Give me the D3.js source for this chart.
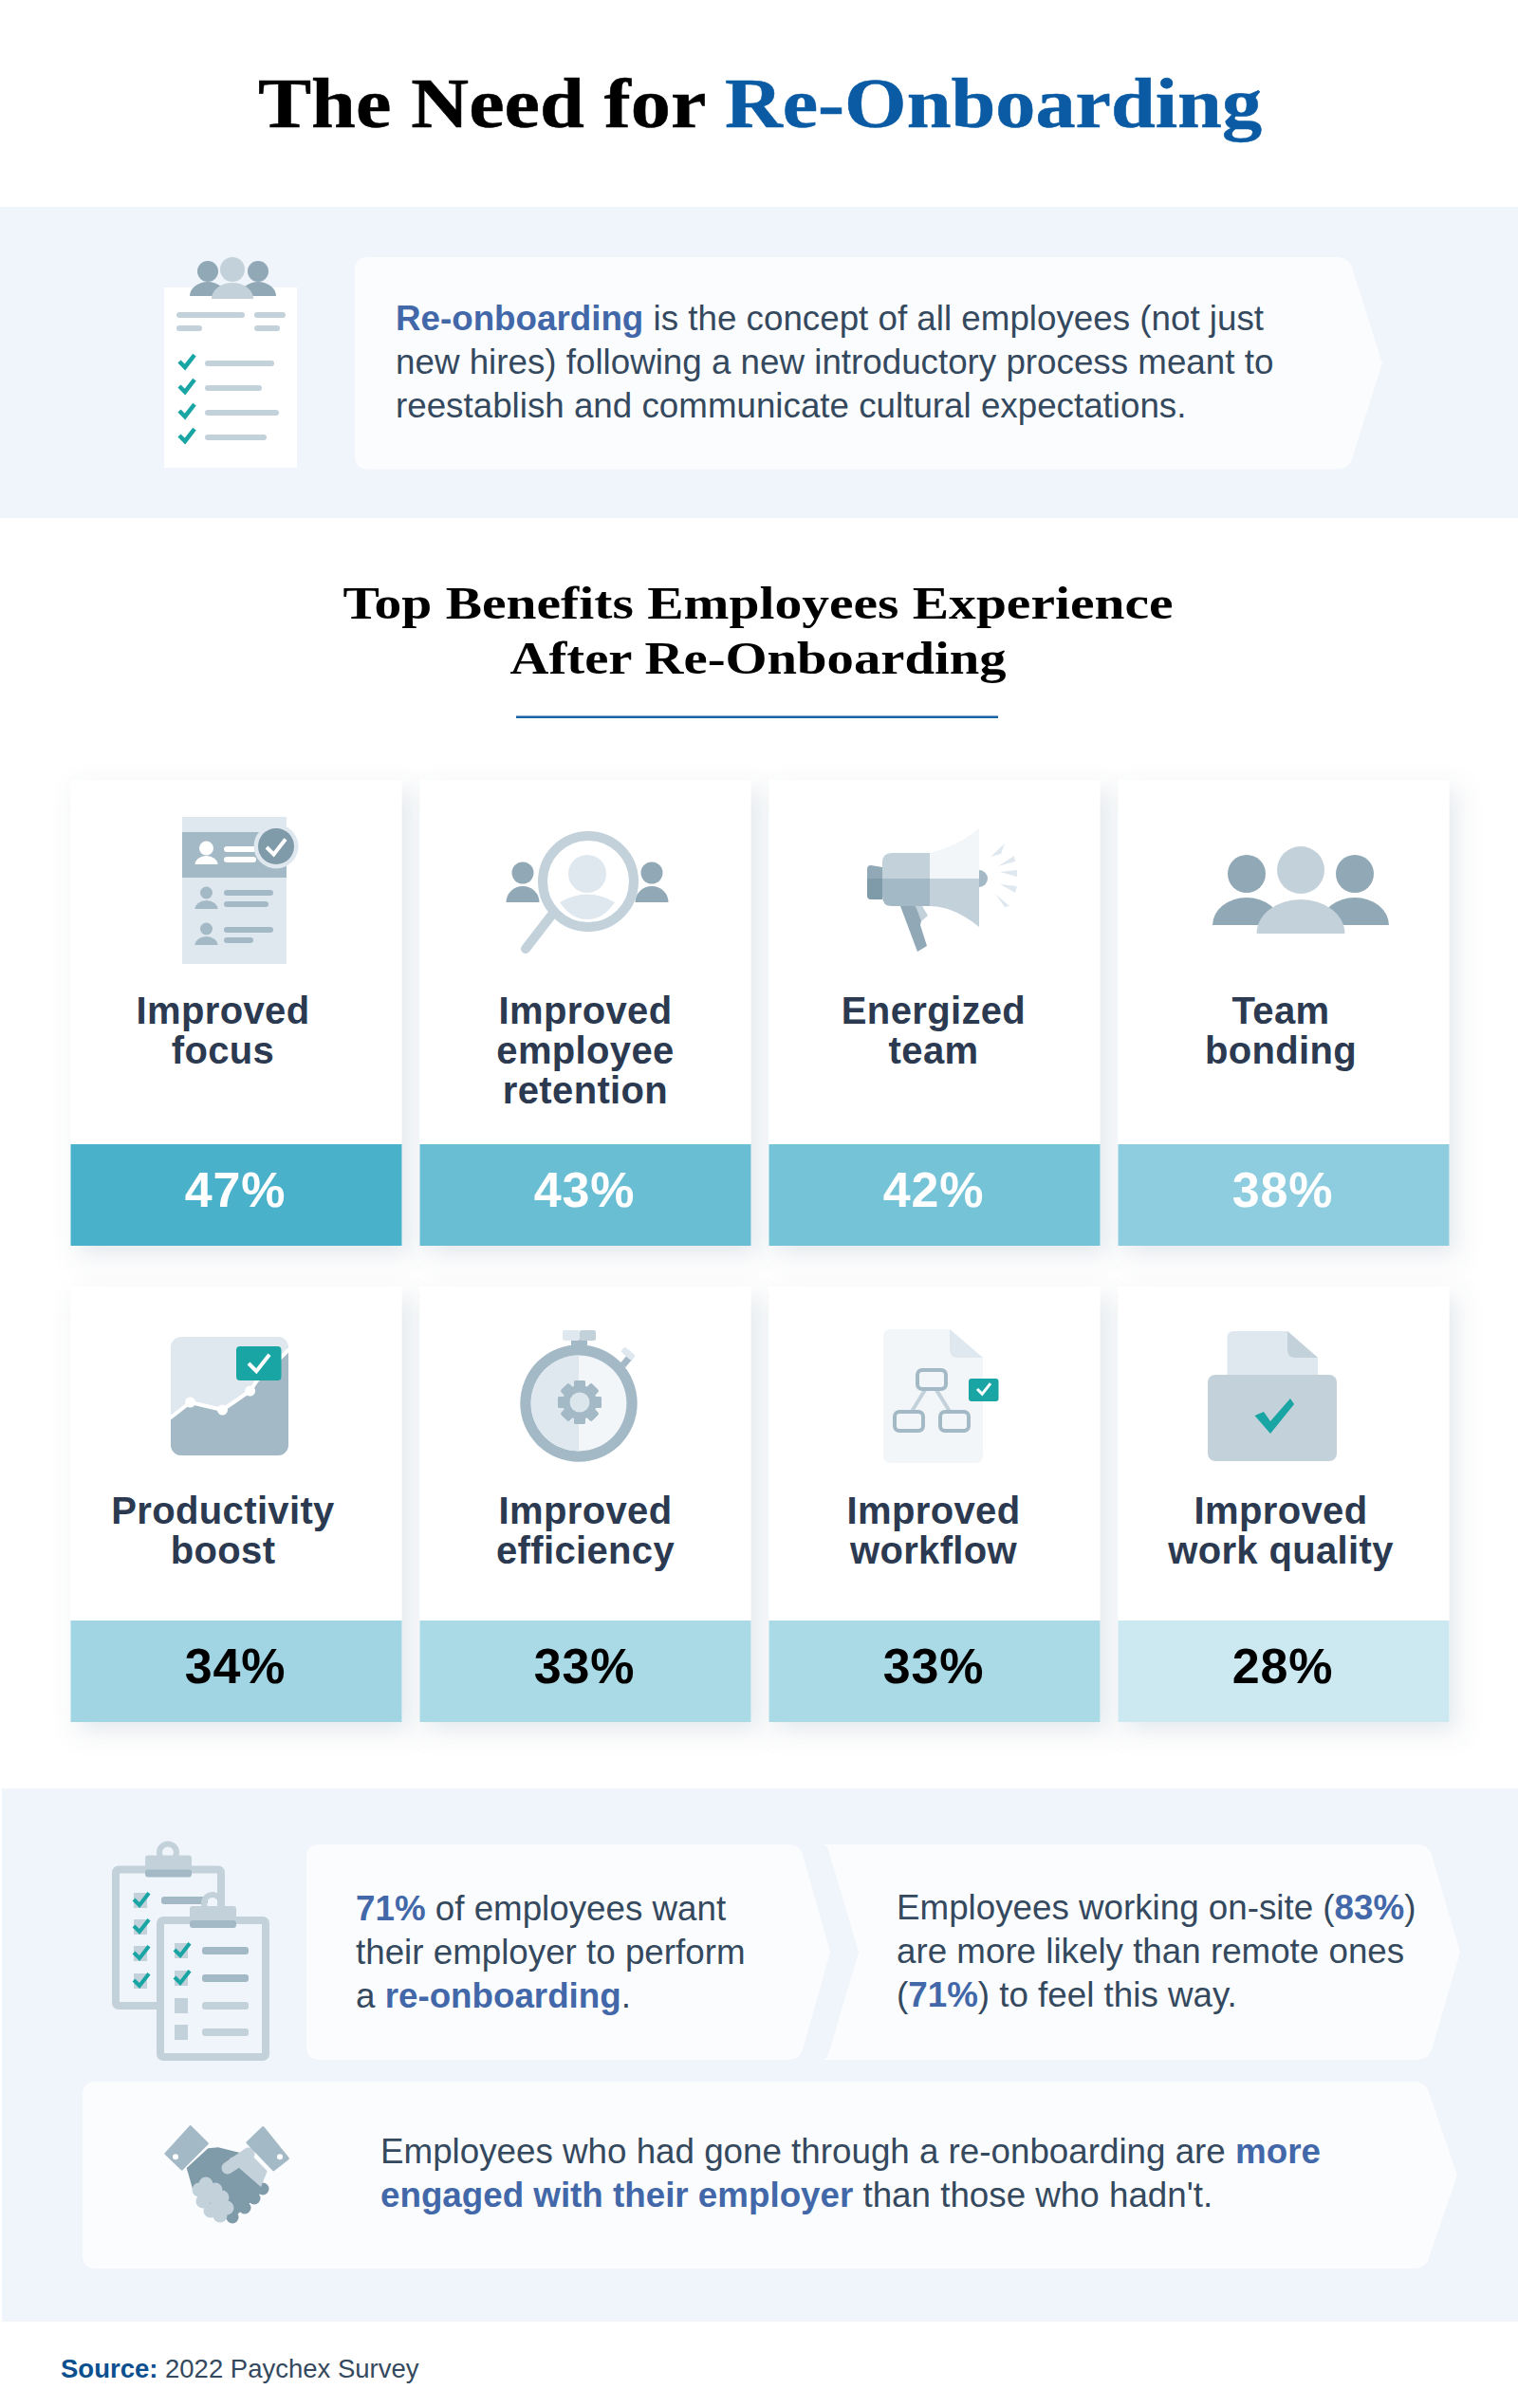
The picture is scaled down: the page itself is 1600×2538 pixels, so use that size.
<!DOCTYPE html>
<html>
<head>
<meta charset="utf-8">
<script src="https://cdn.jsdelivr.net/npm/d3@7"></script>
<style>
  body { margin: 0; background: #fff; }
  svg { display: block; }
  text { font-family: "Liberation Sans", Arial, sans-serif; }
  text.serif { font-family: "Liberation Serif", serif; font-weight: bold; }
</style>
</head>
<body>
<div id="chart"></div>
<script>
// chart values
var benefitLabels = [
    ["Improved", "focus"],
    ["Improved", "employee", "retention"],
    ["Energized", "team"],
    ["Team", "bonding"],
    ["Productivity", "boost"],
    ["Improved", "efficiency"],
    ["Improved", "workflow"],
    ["Improved", "work quality"]
];
var benefitValues = [47, 43, 42, 38, 34, 33, 33, 28];

// text blocks, each run is [text, highlighted]
var introLines = [
    [["Re-onboarding", true], [" is the concept of all employees (not just", false]],
    [["new hires) following a new introductory process meant to", false]],
    [["reestablish and communicate cultural expectations.", false]]
];
var wantLines = [
    [["71%", true], [" of employees want", false]],
    [["their employer to perform", false]],
    [["a ", false], ["re-onboarding", true], [".", false]]
];
var onsiteLines = [
    [["Employees working on-site (", false], ["83%", true], [")", false]],
    [["are more likely than remote ones", false]],
    [["(", false], ["71%", true], [") to feel this way.", false]]
];
var engagedLines = [
    [["Employees who had gone through a re-onboarding are ", false], ["more", true]],
    [["engaged with their employer", true], [" than those who hadn't.", false]]
];

// palette
var PALE = "#f3f6f9", LIGHT = "#e0e8ef", MID = "#c3d1da", SLATE = "#a4b9c6",
    DUSK = "#91a9b7", DARK = "#7f9aa8", TEAL = "#18a5a3";
var BAND = "#f0f4fb", CALLOUT = "#fbfcfe", BODY = "#34495e", HILITE = "#4268a9";

var svg = d3.select("#chart").append("svg")
    .attr("width", 1600).attr("height", 2538).attr("viewBox", "0 0 1600 2538");

var filter = svg.append("defs").append("filter").attr("id", "cardShadow")
    .attr("x", "-15%").attr("y", "-15%").attr("width", "130%").attr("height", "130%");
filter.append("feDropShadow")
    .attr("dx", 8).attr("dy", 10).attr("stdDeviation", 13)
    .attr("flood-color", "#5f7a90").attr("flood-opacity", 0.17);

// small drawing helpers for the icons
function rect(g, x, y, w, h, fill, rx) {
    return g.append("rect").attr("x", x).attr("y", y).attr("width", w).attr("height", h)
        .attr("fill", fill).attr("rx", rx || 0);
}
function circ(g, cx, cy, r, fill) {
    return g.append("circle").attr("cx", cx).attr("cy", cy).attr("r", r).attr("fill", fill);
}
function shape(g, d, fill) {
    return g.append("path").attr("d", d).attr("fill", fill);
}
function line(g, d, color, width) {
    return g.append("path").attr("d", d).attr("fill", "none").attr("stroke", color)
        .attr("stroke-width", width).attr("stroke-linecap", "round").attr("stroke-linejoin", "round");
}
function dome(g, cx, top, bottom, w, fill) {
    return shape(g, "M" + (cx - w) + "," + bottom + "A" + w + "," + (bottom - top) + " 0 0 1 " + (cx + w) + "," + bottom + "Z", fill);
}
function check(g, x, y, s, color, width) {
    return g.append("path")
        .attr("d", "M" + (x - s) + "," + y + "L" + (x - s * 0.25) + "," + (y + s * 0.75) + "L" + (x + s) + "," + (y - s * 0.85))
        .attr("fill", "none").attr("stroke", color).attr("stroke-width", width);
}
function person(g, cx, headY, headR, top, bottom, w, fill) {
    circ(g, cx, headY, headR, fill);
    dome(g, cx, top, bottom, w, fill);
}

// chevron shaped box, optional notch on the left side
function callout(x0, y0, x1, y1, tip, notch) {
    var r = 14, mid = (y0 + y1) / 2;
    var left = notch
        ? "L" + x0 + "," + y1 + "Q" + (x0 + 7) + "," + y1 + " " + (x0 + 9) + "," + (y1 - 12) +
          "L" + notch + "," + mid + "L" + (x0 + 9) + "," + (y0 + 12) + "Q" + (x0 + 7) + "," + y0 + " " + x0 + "," + y0
        : "L" + (x0 + r) + "," + y1 + "Q" + x0 + "," + y1 + " " + x0 + "," + (y1 - r) +
          "L" + x0 + "," + (y0 + r) + "Q" + x0 + "," + y0 + " " + (x0 + r) + "," + y0;
    svg.append("path").attr("fill", CALLOUT).attr("d",
        "M" + (notch ? x0 : x0 + r) + "," + y0 + "L" + (x1 - r) + "," + y0 +
        "Q" + x1 + "," + y0 + " " + (x1 + 3) + "," + (y0 + r) + "L" + tip + "," + mid +
        "L" + (x1 + 3) + "," + (y1 - r) + "Q" + x1 + "," + y1 + " " + (x1 - r) + "," + y1 + left + "Z");
}

// multi line text with highlighted runs
function writeLines(lines, x, baselines, size) {
    lines.forEach(function(runs, i) {
        var t = svg.append("text").attr("x", x).attr("y", baselines[i])
            .attr("font-size", size).attr("fill", BODY).attr("xml:space", "preserve");
        runs.forEach(function(run) {
            t.append("tspan").text(run[0])
                .attr("fill", run[1] ? HILITE : BODY)
                .attr("font-weight", run[1] ? "bold" : "normal");
        });
    });
}

// ---- header ----
// reference face is wider than Liberation Serif, so stretch it
var title = svg.append("text").attr("class", "serif").attr("text-anchor", "middle")
    .attr("transform", "translate(801,133.5) scale(1.123,1)")
    .attr("font-size", 75).attr("stroke-width", 0.5);
title.append("tspan").text("The Need for ").attr("fill", "#000").attr("stroke", "#000");
title.append("tspan").text("Re-Onboarding").attr("fill", "#0a5ba4").attr("stroke", "#0a5ba4");

rect(svg, 0, 218, 1600, 328, BAND);
callout(374, 271, 1423, 494.5, 1457);
writeLines(introLines, 417, [347.5, 393.5, 439.5], 36.75);

svg.append("text").attr("class", "serif").attr("x", 799).attr("y", 651.5).attr("text-anchor", "middle")
    .attr("font-size", 49).attr("fill", "#000")
    .attr("textLength", 875).attr("lengthAdjust", "spacingAndGlyphs")
    .text("Top Benefits Employees Experience");
svg.append("text").attr("class", "serif").attr("x", 799).attr("y", 710).attr("text-anchor", "middle")
    .attr("font-size", 49).attr("fill", "#000")
    .attr("textLength", 523).attr("lengthAdjust", "spacingAndGlyphs")
    .text("After Re-Onboarding");
rect(svg, 544, 754.5, 508, 2.5, "#1a63a3");

// intro icon
(function() {
    var g = svg.append("g");
    rect(g, 173, 303, 140, 190, "#fff");
    person(g, 219, 286, 11, 297, 312, 19, DUSK);
    person(g, 272, 286, 11, 297, 312, 19, DUSK);
    person(g, 245, 284, 13, 298, 315, 22, MID);
    [[186, 72, 332], [268, 33, 332], [186, 27, 346], [268, 27, 346]].forEach(function(b) {
        rect(g, b[0], b[2] - 3, b[1], 6, MID, 3);
    });
    [[381, 289], [407, 276], [433, 294], [459, 281]].forEach(function(b) {
        check(g, 197, b[0], 8, TEAL, 4.5);
        rect(g, 216, b[0] - 1, b[1] - 216, 6, MID, 3);
    });
})();

// ---- benefit cards ----
var cardX = d3.scaleBand().domain(d3.range(4)).range([74.5, 1527.5]).paddingInner(19 / 368);
var rowTop = [822, 1356];
var rowBarTop = [1206, 1708];
var rowFirstBase = [1079, 1606];
var labelShift = [-14, 0, -1, -3];
var BAR_H = 107;

var barColor = d3.scaleLinear()
    .domain([28, 33, 34, 38, 42, 43, 47])
    .range(["#cce8f1", "#aadae6", "#a1d5e3", "#8dcddf", "#74c3d7", "#6abed4", "#4ab1cb"]);

var cards = svg.selectAll("g.card").data(benefitValues).enter().append("g")
    .attr("class", "card")
    .attr("data-col", function(d, i) { return i % 4; });

cards.append("rect")
    .attr("x", function(d, i) { return cardX(i % 4); })
    .attr("y", function(d, i) { return rowTop[Math.floor(i / 4)]; })
    .attr("width", cardX.bandwidth())
    .attr("height", function(d, i) { var r = Math.floor(i / 4); return rowBarTop[r] + BAR_H - rowTop[r]; })
    .attr("fill", "#fff")
    .attr("filter", "url(#cardShadow)");

cards.append("rect")
    .attr("x", function(d, i) { return cardX(i % 4); })
    .attr("y", function(d, i) { return rowBarTop[Math.floor(i / 4)]; })
    .attr("width", cardX.bandwidth())
    .attr("height", BAR_H)
    .attr("fill", function(d) { return barColor(d); });

cards.append("text")
    .attr("x", function(d, i) { return cardX(i % 4) + cardX.bandwidth() / 2 - 1; })
    .attr("y", function(d, i) { return rowBarTop[Math.floor(i / 4)] + 66; })
    .attr("text-anchor", "middle")
    .attr("font-size", 52).attr("font-weight", "bold").attr("letter-spacing", 0.8)
    .attr("fill", function(d) { return d >= 38 ? "#fff" : "#000"; })
    .text(function(d) { return d + "%"; });

cards.each(function(d, i) {
    var c = i % 4, r = Math.floor(i / 4);
    var cx = cardX(c) + cardX.bandwidth() / 2 + labelShift[c];
    d3.select(this).selectAll("text.label").data(benefitLabels[i]).enter().append("text")
        .attr("class", "label")
        .attr("x", cx)
        .attr("y", function(l, j) { return rowFirstBase[r] + j * 42; })
        .attr("text-anchor", "middle")
        .attr("font-size", 40).attr("font-weight", "bold").attr("fill", "#2b3a50")
        .attr("letter-spacing", 0.35)
        .text(function(l) { return l; });
});

// icon: profile list
(function() {
    var g = svg.append("g");
    rect(g, 192, 861, 110, 155, LIGHT);
    rect(g, 192, 877, 110, 48, SLATE);
    person(g, 217.5, 894, 7.5, 902, 911, 12, "#fff");
    rect(g, 236, 892, 34, 6, "#fff", 3);
    rect(g, 236, 903, 34, 6, "#fff", 3);
    person(g, 217.5, 941, 6.5, 949, 958, 12, SLATE);
    rect(g, 236, 938, 52, 6, SLATE, 3);
    rect(g, 236, 950, 47, 6, SLATE, 3);
    person(g, 217.5, 979, 6.5, 987, 996, 12, SLATE);
    rect(g, 236, 977, 52, 6, SLATE, 3);
    rect(g, 236, 988, 31, 6, SLATE, 3);
    circ(g, 291, 892, 23.5, LIGHT);
    circ(g, 291, 892, 19, DARK);
    check(g, 291, 893, 10, "#fff", 4);
})();

// icon: magnifier
(function() {
    var g = svg.append("g");
    person(g, 551, 920, 11.5, 934, 951, 17.5, DUSK);
    person(g, 687, 920, 11.5, 934, 951, 17.5, DUSK);
    line(g, "M581,965L554,1000", MID, 10);
    circ(g, 620, 929, 48, "#fff").attr("stroke", MID).attr("stroke-width", 10);
    circ(g, 619, 921, 20, LIGHT);
    shape(g, "M590,951Q619,934 648,951Q636,969 619,969Q602,969 590,951Z", LIGHT);
})();

// icon: megaphone
(function() {
    var g = svg.append("g");
    shape(g, "M949,955L965,955L972,966L970,975L977,997L967,1003Z", DUSK);
    shape(g, "M965,955L972,955L978,965L971,971Z", MID);
    shape(g, "M918,912L930,914L930,926L914,926L914,916Q914,912 918,912Z", DUSK);
    shape(g, "M914,926L930,926L930,948L918,948Q914,948 914,944Z", DARK);
    shape(g, "M1032,917A9,9 0 0 1 1032,935Z", SLATE);
    shape(g, "M940,899L980,899L980,926L930,926L930,909Q930,899 940,899Z", MID);
    shape(g, "M930,926L980,926L980,955L940,955Q930,955 930,945Z", SLATE);
    shape(g, "M980,899Q1010,892 1032,873L1032,926L980,926Z", PALE);
    shape(g, "M980,926L1032,926L1032,977Q1005,955 980,955Z", MID);
    ["M1044,903L1059,889L1055,900Z", "M1052,913L1069,902L1070,908Z", "M1054,919L1072,917L1072,924Z",
     "M1054,932L1072,934L1070,941Z", "M1049,942L1064,955L1059,956Z"].forEach(function(d) {
        shape(g, d, LIGHT);
    });
})();

// icon: team
(function() {
    var g = svg.append("g");
    person(g, 1314, 921, 20, 946, 975, 36, DUSK);
    person(g, 1428, 921, 20, 946, 975, 36, DUSK);
    person(g, 1371, 917, 25, 948, 984, 46.5, MID);
})();

// icon: growth chart
(function() {
    var g = svg.append("g");
    g.append("clipPath").attr("id", "chartClip").append("rect")
        .attr("x", 180).attr("y", 1409).attr("width", 124).attr("height", 125).attr("rx", 11);
    var inner = g.append("g").attr("clip-path", "url(#chartClip)");
    rect(inner, 180, 1409, 124, 125, LIGHT);
    var trend = "M180,1494L200.5,1478L234.5,1486L263.6,1466L271,1455L304,1423";
    shape(inner, trend + "L304,1534L180,1534Z", SLATE);
    line(inner, trend, "#fff", 4);
    [[200.5, 1478], [234.5, 1486], [263.6, 1466]].forEach(function(p) { circ(inner, p[0], p[1], 5.5, "#fff"); });
    rect(g, 249, 1419, 47.5, 36, TEAL, 4);
    check(g, 273, 1437, 11, "#fff", 4);
})();

// icon: stopwatch
(function() {
    var g = svg.append("g");
    rect(g, 602, 1410, 17, 10, SLATE);
    rect(g, 593, 1402, 18, 11, LIGHT, 2);
    rect(g, 611, 1402, 17, 11, MID, 2);
    g.append("rect").attr("x", 657).attr("y", 1428).attr("width", 7).attr("height", 12).attr("fill", SLATE)
        .attr("transform", "rotate(40 660 1434)");
    g.append("rect").attr("x", 655).attr("y", 1423).attr("width", 15).attr("height", 7).attr("fill", LIGHT).attr("rx", 2)
        .attr("transform", "rotate(40 662 1426)");
    circ(g, 610, 1479, 61.7, SLATE);
    circ(g, 610, 1479, 50.4, PALE);
    shape(g, "M610,1428.6A50.4,50.4 0 0 0 610,1529.4Z", LIGHT);
    d3.range(8).forEach(function(k) {
        g.append("rect").attr("x", 605).attr("y", 1455).attr("width", 12).attr("height", 46).attr("fill", SLATE).attr("rx", 2)
            .attr("transform", "rotate(" + k * 45 + " 611 1478)");
    });
    circ(g, 611, 1478, 18, SLATE);
    circ(g, 611, 1478, 10.5, "#dbe5ec");
})();

// icon: workflow document
(function() {
    var g = svg.append("g");
    shape(g, "M939,1401L1001,1401L1036,1431L1036,1534Q1036,1542 1028,1542L939,1542Q931,1542 931,1534L931,1409Q931,1401 939,1401Z", PALE);
    shape(g, "M1001,1401L1036,1431L1010,1431Q1001,1431 1001,1422Z", LIGHT);
    line(g, "M975,1465L962,1486", MID, 4);
    line(g, "M987,1465L1000,1486", MID, 4);
    [[965, 1442], [941, 1486], [989, 1486]].forEach(function(p) {
        rect(g, p[0] + 2, p[1] + 2, 30, 20, "none", 5).attr("stroke", SLATE).attr("stroke-width", 4);
    });
    rect(g, 1021, 1453, 31.5, 24, TEAL, 3);
    check(g, 1037, 1464, 7, "#fff", 3);
})();

// icon: folder with check
(function() {
    var g = svg.append("g");
    shape(g, "M1300,1403L1357,1403L1389,1431L1389,1460L1293.5,1460L1293.5,1410Q1293.5,1403 1300,1403Z", LIGHT);
    shape(g, "M1357,1403L1389,1431L1365,1431Q1357,1431 1357,1422Z", MID);
    rect(g, 1273, 1449, 136, 91, MID, 8);
    shape(g, "M1322.5,1492L1332,1488L1339,1498L1360,1474L1364,1480L1339,1511Z", TEAL);
})();

// ---- bottom section ----
rect(svg, 2, 1885, 1598, 562, BAND);
callout(323, 1944, 844, 2171, 875);
callout(866, 1944, 1507, 2171, 1539, 905);
callout(87, 2194, 1504, 2391, 1536);
writeLines(wantLines, 375, [2024, 2070, 2116], 36.75);
writeLines(onsiteLines, 945, [2023, 2069, 2115], 36.75);
writeLines(engagedLines, 401, [2280, 2326], 36.75);

// icon: clipboards
(function() {
    var g = svg.append("g");
    function board(x, y, w, h) {
        rect(g, x + 4, y + 4, w - 8, h - 8, BAND, 3).attr("stroke", MID).attr("stroke-width", 8);
        circ(g, x + 59, y - 14, 9, "none").attr("stroke", MID).attr("stroke-width", 6);
        rect(g, x + 35, y - 11, 49, 15, MID, 3);
        rect(g, x + 35, y + 4, 49, 8, SLATE, 3);
    }
    function item(x, y, done, barFill) {
        rect(g, x - 7, y - 8, 14, 16, MID);
        if (done) check(g, x + 1, y - 1, 8, TEAL, 4);
        rect(g, x + 22, y - 4, 49, 8, barFill, 3);
    }
    board(118, 1966.5, 119, 151.5);
    [2003, 2031, 2059, 2088].forEach(function(y) { item(148, y, true, SLATE); });
    board(165, 2020, 119, 152);
    item(191, 2056, true, SLATE);
    item(191, 2085, true, SLATE);
    item(191, 2114, false, MID);
    item(191, 2142, false, MID);
})();

// icon: handshake
(function() {
    var g = svg.append("g");
    shape(g, "M196.7,2285L219.3,2264.3L230,2263.3L256.7,2270L278.3,2308.3L241.7,2341.7L203,2307Z", DARK);
    [[277, 2307], [268, 2317], [258, 2327], [245, 2337]].forEach(function(p) { circ(g, p[0], p[1], 6.5, DARK); });
    shape(g, "M260.7,2266.7L281.7,2288.3L275,2305L250,2283.3L241.7,2275Z", MID);
    line(g, "M240,2285L262,2270", MID, 13);
    shape(g, "M210,2308L217,2302L239,2327L232,2335Z", MID);
    [[210, 2308], [217, 2302], [227, 2308], [234, 2316], [239, 2327], [232, 2335], [222, 2330], [214, 2320]].forEach(function(p) {
        circ(g, p[0], p[1], 7.5, MID);
    });
    g.append("path").attr("d", "M200.7,2241.7L218.3,2259.3L191.7,2286L175,2270Z").attr("fill", SLATE)
        .attr("stroke", SLATE).attr("stroke-width", 3).attr("stroke-linejoin", "round");
    g.append("path").attr("d", "M277.3,2242.7L303.3,2275L288.3,2286.7L261,2258.3Z").attr("fill", SLATE)
        .attr("stroke", SLATE).attr("stroke-width", 3).attr("stroke-linejoin", "round");
    circ(g, 185, 2273.3, 3, "#fff");
    circ(g, 295, 2273.3, 3, "#fff");
})();

// source line
var source = svg.append("text").attr("x", 64).attr("y", 2505.5).attr("font-size", 27.5).attr("xml:space", "preserve");
source.append("tspan").text("Source:").attr("font-weight", "bold").attr("fill", "#0b4f8f");
source.append("tspan").text(" 2022 Paychex Survey").attr("fill", BODY);
</script>
</body>
</html>
